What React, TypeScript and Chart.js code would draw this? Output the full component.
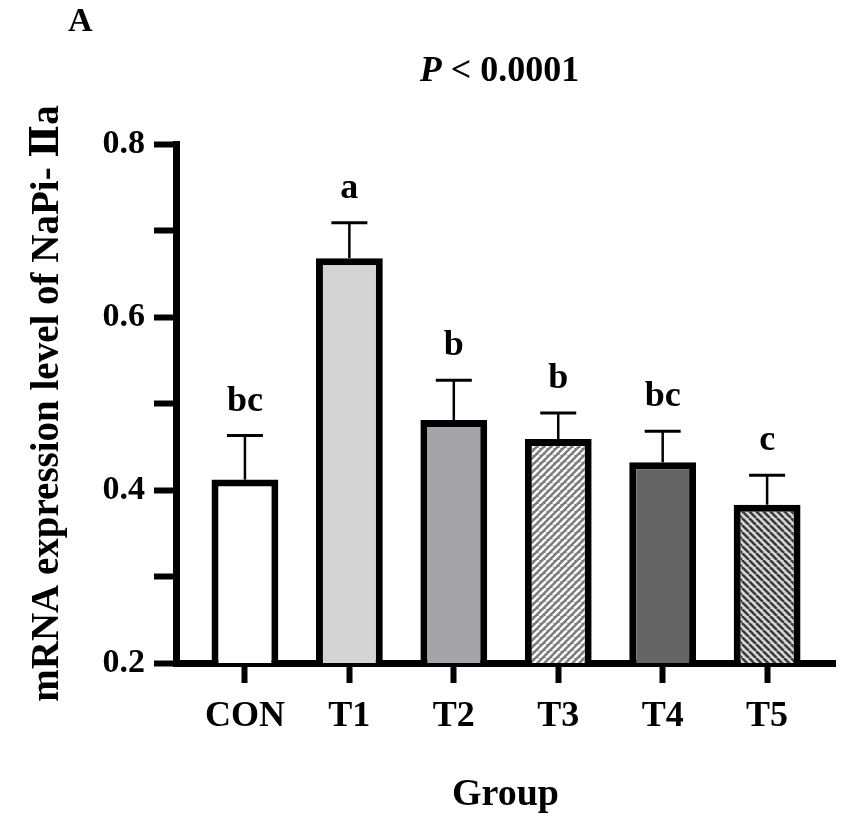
import React, { useEffect, useRef } from 'react';
import { Chart, registerables } from 'chart.js';

Chart.register(...registerables);

// Data
const groups = ['CON', 'T1', 'T2', 'T3', 'T4', 'T5'];
const means = [0.412, 0.668, 0.481, 0.459, 0.432, 0.383];
const sds = [0.051, 0.041, 0.046, 0.03, 0.036, 0.034];
const letters = ['bc', 'a', 'b', 'b', 'bc', 'c'];

const SERIF = "'Liberation Serif', 'Times New Roman', 'DejaVu Serif', serif";

// diagonal hatch tile
function makeHatch(ctx: CanvasRenderingContext2D, bg: string, fg: string, dir: '/' | '\\', size: number, lw: number) {
  const c = document.createElement('canvas');
  c.width = size;
  c.height = size;
  const g = c.getContext('2d')!;
  g.fillStyle = bg;
  g.fillRect(0, 0, size, size);
  g.strokeStyle = fg;
  g.lineWidth = lw;
  g.beginPath();
  for (const k of [-size, 0, size]) {
    if (dir === '/') {
      g.moveTo(k, size);
      g.lineTo(k + size, 0);
    } else {
      g.moveTo(k, 0);
      g.lineTo(k + size, size);
    }
  }
  g.stroke();
  return ctx.createPattern(c, 'repeat')!;
}

const annotations = {
  id: 'annotations',
  afterDatasetsDraw(chart: any) {
    const { ctx, chartArea } = chart;
    const yScale = chart.scales.y;
    const meta = chart.getDatasetMeta(0);
    ctx.save();
    ctx.strokeStyle = '#000';
    ctx.fillStyle = '#000';
    meta.data.forEach((bar: any, i: number) => {
      const x = bar.x;
      const top = yScale.getPixelForValue(means[i] + sds[i]);
      ctx.lineWidth = 2.5;
      ctx.beginPath();
      ctx.moveTo(x, bar.y);
      ctx.lineTo(x, top);
      ctx.stroke();
      ctx.lineWidth = 3;
      ctx.beginPath();
      ctx.moveTo(x - 18, top);
      ctx.lineTo(x + 18, top);
      ctx.stroke();
      ctx.font = `bold 36px ${SERIF}`;
      ctx.textAlign = 'center';
      ctx.textBaseline = 'alphabetic';
      ctx.fillText(letters[i], x, top - 25);
    });

    // P value title with italic P
    const pFont = `italic bold 36px ${SERIF}`;
    const restFont = `bold 36px ${SERIF}`;
    const rest = ' < 0.0001';
    ctx.font = pFont;
    const wP = ctx.measureText('P').width;
    ctx.font = restFont;
    const wR = ctx.measureText(rest).width;
    const cx = (chartArea.left + chartArea.right) / 2 - 6;
    const x0 = cx - (wP + wR) / 2;
    ctx.textAlign = 'left';
    ctx.textBaseline = 'middle';
    ctx.font = pFont;
    ctx.fillText('P', x0, 72);
    ctx.font = restFont;
    ctx.fillText(rest, x0 + wP, 72);

    // panel letter
    ctx.font = `bold 34px ${SERIF}`;
    ctx.fillText('A', 68, 22);
    ctx.restore();
  },
};

const App: React.FC = () => {
  const canvasRef = useRef<HTMLCanvasElement>(null);

  useEffect(() => {
    document.body.style.margin = '0';
    if (!canvasRef.current) return;
    const ctx = canvasRef.current.getContext('2d');
    if (!ctx) return;

    const fills = [
      '#ffffff',
      '#d4d4d4',
      '#a3a3a8',
      makeHatch(ctx, '#7c7c7c', '#ffffff', '/', 7, 2.5),
      '#646464',
      makeHatch(ctx, '#d8d8d8', '#3a3a3a', '\\', 7, 2.5),
    ];

    const chart = new Chart(ctx, {
      type: 'bar',
      data: {
        datasets: [
          {
            data: groups.map((_, i) => ({ x: i, y: means[i] })),
            backgroundColor: fills as any,
            borderColor: '#000',
            borderWidth: 7,
            borderSkipped: false,
            barPercentage: 0.64,
            categoryPercentage: 1,
          },
        ],
      },
      options: {
        animation: false,
        responsive: false,
        layout: { padding: { top: 144, right: 15, left: 0, bottom: 0 } },
        plugins: {
          legend: { display: false },
          tooltip: { enabled: false },
        },
        scales: {
          x: {
            type: 'linear',
            min: -0.66,
            max: 5.65,
            offset: false,
            afterBuildTicks: (s: any) => {
              s.ticks = groups.map((_, i) => ({ value: i }));
            },
            afterFit: (s: any) => {
              s.height = 156;
            },
            ticks: {
              callback: (v: any) => groups[v] ?? '',
              font: { family: SERIF, size: 36, weight: 'bold' },
              color: '#000',
              padding: 12,
              autoSkip: false,
              maxRotation: 0,
            },
            grid: { offset: false, drawOnChartArea: false, drawTicks: true, tickLength: 20, tickWidth: 6, tickColor: '#000' },
            border: { display: true, color: '#000', width: 7 },
            title: {
              display: true,
              text: 'Group',
              color: '#000',
              font: { family: SERIF, size: 38, weight: 'bold' },
              padding: { top: 0, bottom: 1 },
            },
          },
          y: {
            min: 0.2,
            max: 0.8,
            afterFit: (s: any) => {
              s.width = 176;
            },
            ticks: {
              stepSize: 0.1,
              callback: (v: any) => (Math.round(v * 10) % 2 === 0 ? Number(v).toFixed(1) : ''),
              font: { family: SERIF, size: 34, weight: 'bold' },
              color: '#000',
              padding: 9,
            },
            grid: { drawOnChartArea: false, drawTicks: true, tickLength: 22, tickWidth: 6, tickColor: '#000' },
            border: { display: true, color: '#000', width: 7 },
            title: {
              display: true,
              text: 'mRNA expression level of NaPi- Ⅱa',
              color: '#000',
              font: { family: SERIF, size: 39, weight: 'bold' },
              padding: { top: 25, bottom: 0 },
            },
          },
        },
      },
      plugins: [annotations],
    });

    return () => {
      chart.destroy();
    };
  }, []);

  return (
    <div style={{ width: 850, height: 819, background: '#fff' }}>
      <canvas ref={canvasRef} width={850} height={819} style={{ display: 'block' }} />
    </div>
  );
};

export default App;
